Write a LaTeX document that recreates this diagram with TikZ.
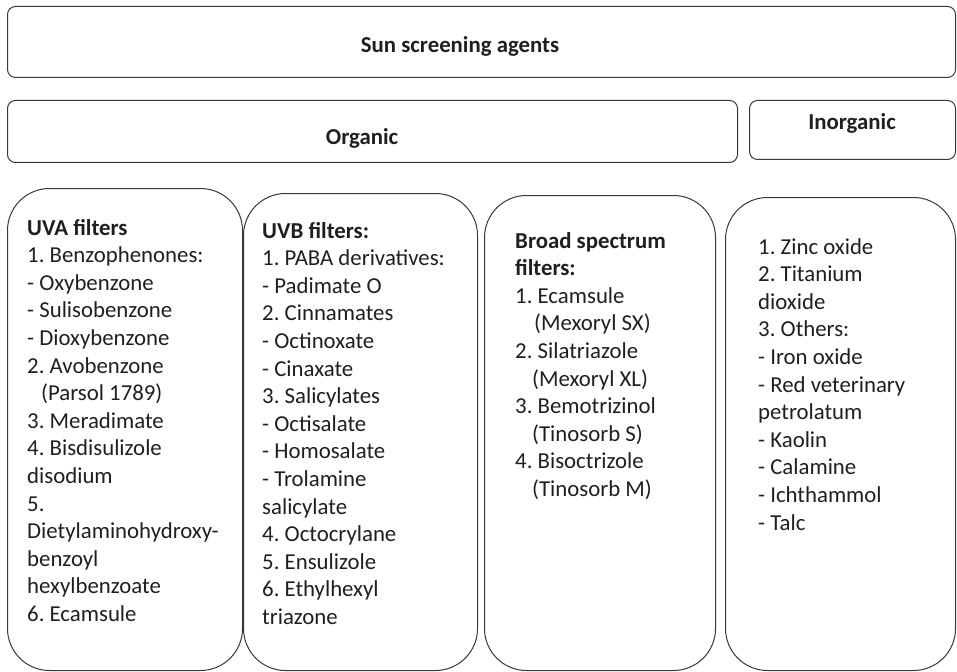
\documentclass[tikz,border=0pt]{standalone}
\usepackage{fontspec}
\setmainfont{Carlito}
\frenchspacing
\newcommand{\colfont}{\fontsize{22.8}{27.6}\selectfont\frenchspacing}
\begin{document}
\begin{tikzpicture}[x=1pt,y=-1pt,
  box/.style={draw=black!78, line width=1pt, rounded corners=8pt, anchor=north west, inner sep=0pt},
  colbox/.style={draw=black!78, line width=1pt, rounded corners=42pt, anchor=north west, inner sep=0pt},
  head/.style={font=\colfont\bfseries, text=black!88, inner sep=0pt, anchor=base},
  listtext/.style={inner sep=0pt, anchor=base west, text=black!88}]
\useasboundingbox (0,0) rectangle (957,671);

% top level boxes
\node[box, minimum width=948pt, minimum height=71pt] (topbox) at (7,6) {};
\node[box, minimum width=730pt, minimum height=62pt] (orgbox) at (7,100) {};
\node[box, minimum width=206pt, minimum height=59pt] (inorgbox) at (749,100) {};

\node[head] (toptext) at (460,53) {Sun screening agents};
\node[head] (orgtext) at (362,145) {Organic};
\node[head] (inorgtext) at (852,130) {Inorganic};

% column boxes
\node[colbox, minimum width=235pt, minimum height=482pt] (uvabox) at (7,188) {};
\node[colbox, minimum width=234pt, minimum height=477pt] (uvbbox) at (243,193) {};
\node[colbox, minimum width=231pt, minimum height=475pt] (broadbox) at (484,195) {};
\node[colbox, minimum width=230pt, minimum height=473pt] (inlistbox) at (725,197) {};

% column texts
\node[listtext] (uvatext) at (27,235) {\parbox[t]{212pt}{\colfont\raggedright
\textbf{UVA filters}\\
1. Benzophenones:\\
- Oxybenzone\\
- Sulisobenzone\\
- Dioxybenzone\\
2. Avobenzone\\
\hspace*{14pt}(Parsol 1789)\\
3. Meradimate\\
4. Bisdisulizole\\
disodium\\
5.\\
Dietylaminohydroxy-\\
benzoyl\\
hexylbenzoate\\
6. Ecamsule}};

\node[listtext] (uvbtext) at (262,238) {\parbox[t]{212pt}{\colfont\raggedright
\textbf{UVB filters:}\\
1. PABA derivatives:\\
- Padimate O\\
2. Cinnamates\\
- Octinoxate\\
- Cinaxate\\
3. Salicylates\\
- Octisalate\\
- Homosalate\\
- Trolamine\\
salicylate\\
4. Octocrylane\\
5. Ensulizole\\
6. Ethylhexyl\\
triazone}};

\node[listtext] (broadtext) at (515,248) {\parbox[t]{195pt}{\colfont\raggedright
\textbf{Broad spectrum}\\
\textbf{filters:}\\
1. Ecamsule\\
\hspace*{19pt}(Mexoryl SX)\\
2. Silatriazole\\
\hspace*{17pt}(Mexoryl XL)\\
3. Bemotrizinol\\
\hspace*{17pt}(Tinosorb S)\\
4. Bisoctrizole\\
\hspace*{17pt}(Tinosorb M)}};

\node[listtext] (inlisttext) at (758,254) {\parbox[t]{195pt}{\colfont\raggedright
1. Zinc oxide\\
2. Titanium\\
dioxide\\
3. Others:\\
- Iron oxide\\
- Red veterinary\\
petrolatum\\
- Kaolin\\
- Calamine\\
- Ichthammol\\
- Talc}};
\end{tikzpicture}
\end{document}
